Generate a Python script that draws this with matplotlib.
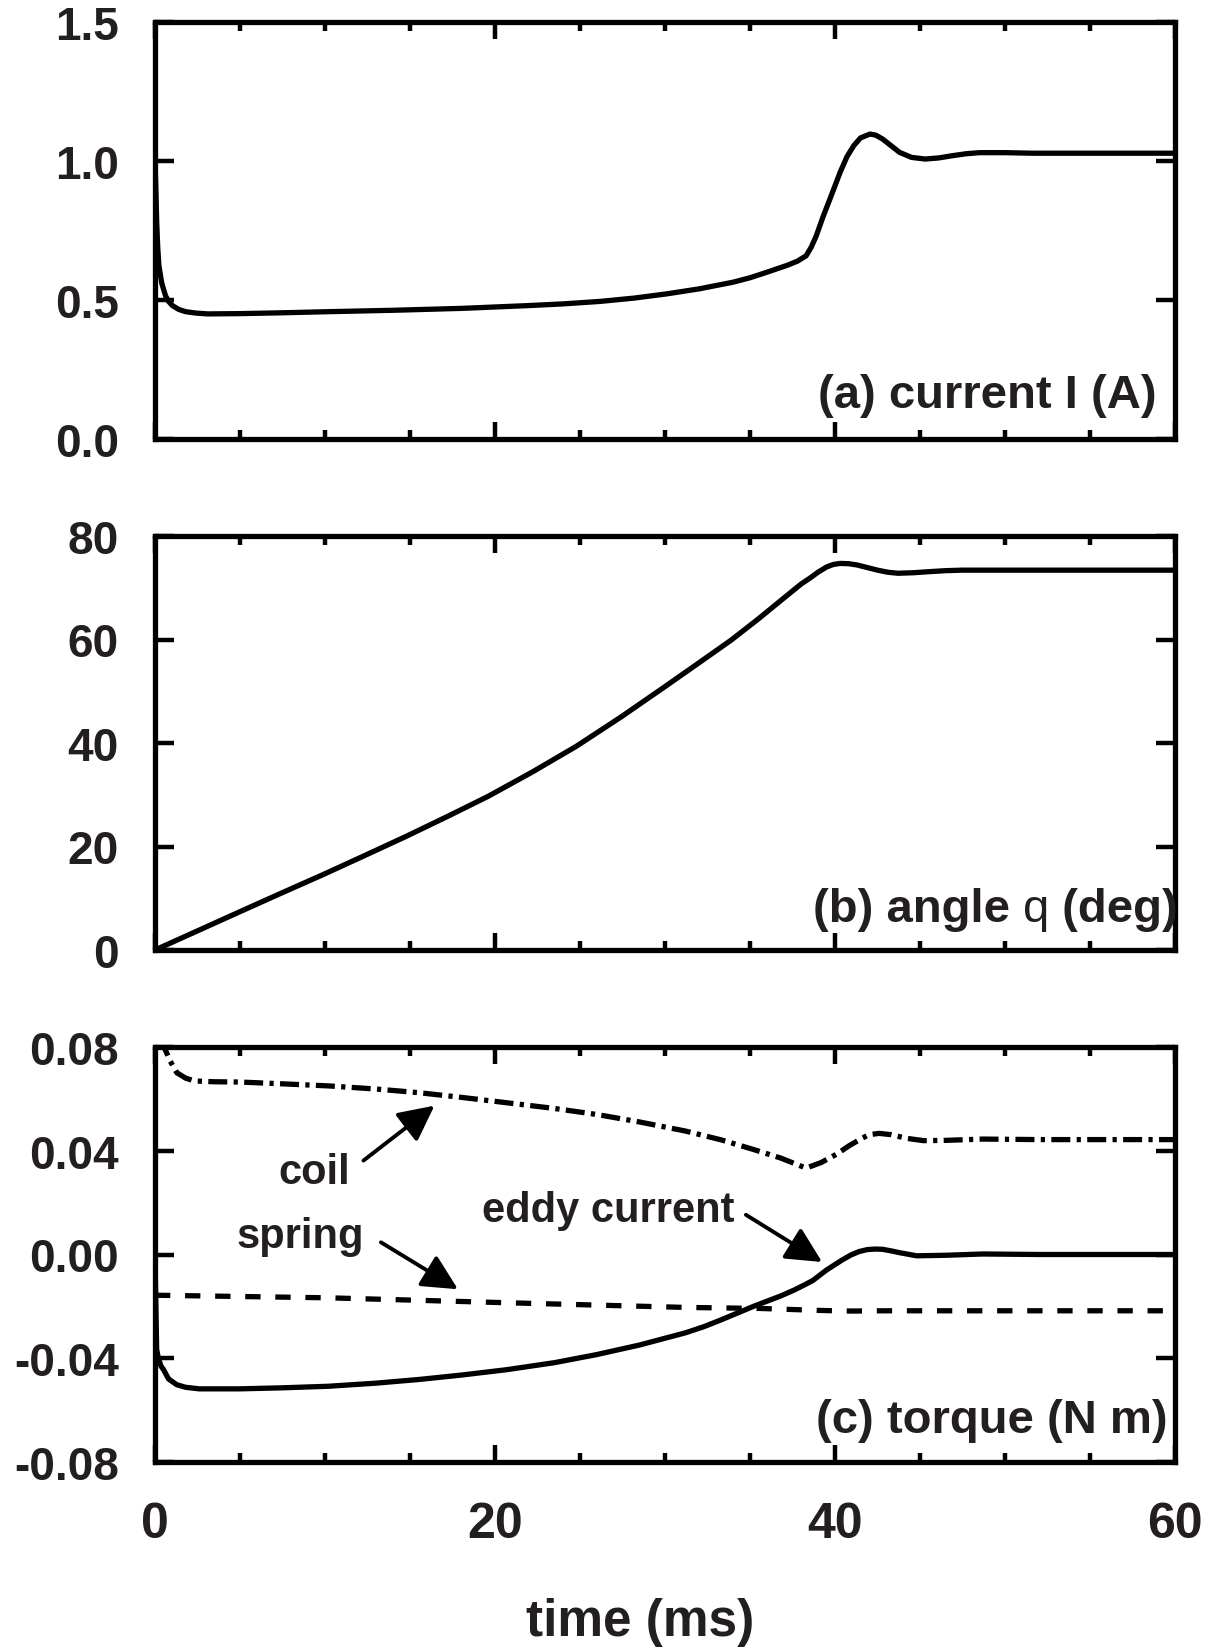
import matplotlib
matplotlib.use("Agg")
import matplotlib.pyplot as plt
from matplotlib.ticker import MultipleLocator, FormatStrFormatter
from matplotlib.patches import ArrowStyle

# --- datos ---
# (a) corriente de la bobina
t_corriente = [0, 0.05, 0.1, 0.16, 0.23, 0.4, 0.62, 0.8, 1.02, 1.4, 1.8, 2.4, 3.1, 5,
               7.5, 10.2, 14, 18.1, 22, 24, 26.2, 28.2, 30.1, 32, 34.0, 35, 36, 37.2,
               37.8, 38.3, 38.6, 38.9, 39.3, 39.7, 40.3, 40.7, 41.1, 41.5, 42.06,
               42.4, 42.8, 43.3, 43.8, 44.5, 45.3, 46.1, 46.9, 47.7, 48.5, 50, 51.6,
               60]
corriente = [1.0, 0.9, 0.78, 0.69, 0.623, 0.56, 0.515, 0.495, 0.48, 0.466, 0.458,
             0.453, 0.450, 0.451, 0.454, 0.458, 0.463, 0.470, 0.480, 0.486, 0.495,
             0.507, 0.522, 0.540, 0.564, 0.580, 0.600, 0.625, 0.640, 0.659, 0.690,
             0.731, 0.800, 0.863, 0.959, 1.015, 1.055, 1.083, 1.097, 1.093, 1.079,
             1.055, 1.031, 1.013, 1.007, 1.011, 1.019, 1.026, 1.030, 1.030, 1.028,
             1.028]

# (b) angulo
t_angulo = [0, 2.5, 4.86, 7.3, 9.84, 12.3, 14.8, 17.2, 19.6, 22.2, 24.8, 27.4, 30.0,
            32.0, 33.9, 35.5, 37.1, 38.0, 38.5, 39.0, 39.5, 39.9, 40.3, 40.8, 41.3,
            41.9, 42.5, 43.1, 43.7, 44.6, 45.5, 46.5, 47.5, 60]
angulo = [0, 3.7, 7.2, 10.8, 14.5, 18.2, 22.0, 25.8, 29.7, 34.4, 39.4, 45.0, 50.9,
          55.5, 59.9, 64.0, 68.3, 70.7, 71.8, 73.0, 74.0, 74.5, 74.7, 74.65, 74.4,
          73.9, 73.4, 73.0, 72.8, 72.9, 73.1, 73.3, 73.4, 73.4]

# (c) pares
t_bobina = [0.2, 0.6, 0.9, 1.28, 1.8, 2.33, 3.5, 4.96, 7.5, 10.2, 13, 15.5, 18, 20.7,
            23.5, 25.97, 28.5, 31.2, 33.3, 35.2, 36.8, 38.3, 39.2, 40.1, 40.8, 41.5,
            42.0, 42.6, 43.3, 44.2, 45.2, 46.5, 48.7, 52, 60]
par_bobina = [0.083, 0.079, 0.0745, 0.0701, 0.068, 0.0669, 0.0666, 0.0665, 0.0658,
              0.065, 0.0638, 0.0624, 0.0606, 0.0585, 0.0563, 0.054, 0.0511, 0.0476,
              0.0442, 0.0405, 0.0372, 0.0333, 0.0355, 0.0387, 0.0418, 0.0445, 0.0462,
              0.0467, 0.0462, 0.0448, 0.0439, 0.0440, 0.0445, 0.0443, 0.0443]

t_foucault = [0, 0.05, 0.1, 0.2, 0.35, 0.5, 0.8, 1.28, 1.8, 2.6, 4.96, 7.5, 10.2, 13,
              15.5, 18, 20.7, 23.5, 25.97, 28.5, 31.2, 32.3, 33.3, 34.4, 35.2, 36.0,
              36.8, 37.6, 38.3, 38.7, 39.1, 39.5, 39.9, 40.4, 40.9, 41.4, 41.9, 42.4,
              42.8, 43.3, 43.8, 44.8, 46.5, 48.7, 52, 60]
par_foucault = [0.0, -0.02, -0.0367, -0.040, -0.043, -0.0444, -0.048, -0.0502,
                -0.0512, -0.0518, -0.0518, -0.0514, -0.0508, -0.0496, -0.0482,
                -0.0465, -0.0444, -0.0417, -0.0386, -0.0349, -0.0302, -0.0278,
                -0.0252, -0.0222, -0.0200, -0.0180, -0.0160, -0.0137, -0.0114,
                -0.0100, -0.0080, -0.0060, -0.0043, -0.0022, -0.0003, 0.0011, 0.0019,
                0.0021, 0.0020, 0.0014, 0.0007, -0.0005, -0.0003, 0.0002, 0.0, 0.0]

t_resorte = [0, 10.2, 20.7, 31.2, 35.6, 39.3, 41, 43, 60]
par_resorte = [-0.0157, -0.0167, -0.0186, -0.0204, -0.0208, -0.0216, -0.0218,
               -0.0217, -0.0217]

ticks_a = [0.0, 0.5, 1.0, 1.5]
ticks_b = [0, 20, 40, 60, 80]
ticks_c = [-0.08, -0.04, 0.00, 0.04, 0.08]
ticks_t = [0, 20, 40, 60]

gris = '#231f20'
plt.rcParams['font.family'] = ['Liberation Sans', 'DejaVu Sans']
plt.rcParams['font.weight'] = 'bold'

W, H = 1214, 1649
fig = plt.figure(figsize=(W / 100, H / 100), dpi=100)


def crear_ejes(top_px, bottom_px):
    left, right = 155, 1175
    ax = fig.add_axes([left / W, 1 - bottom_px / H, (right - left) / W,
                       (bottom_px - top_px) / H])
    for sp in ax.spines.values():
        sp.set_linewidth(3.8)
    ax.set_xlim(0, 60)
    ax.xaxis.set_major_locator(MultipleLocator(20))
    ax.xaxis.set_minor_locator(MultipleLocator(5))
    ax.tick_params(which='both', direction='in', top=True, right=True,
                   width=3.2, labelcolor=gris)
    ax.tick_params(axis='x', which='major', length=12, labelsize=36, pad=28)
    ax.tick_params(axis='x', which='minor', length=6.5)
    ax.tick_params(axis='y', which='major', length=14, labelsize=33, pad=26)
    return ax


lw = 3.8
estilo = dict(color='black', lw=lw, solid_joinstyle='round', dash_joinstyle='round')

ax_a = crear_ejes(23, 440)
ax_a.plot(t_corriente, corriente, **estilo)
ax_a.set_ylim(0, 1.5)
ax_a.set_yticks(ticks_a)
ax_a.yaxis.set_major_formatter(FormatStrFormatter('%.1f'))
ax_a.tick_params(axis='x', labelbottom=False)
ax_a.text(0.982, 0.077, '(a) current I (A)', transform=ax_a.transAxes,
          ha='right', va='baseline', fontsize=34, color=gris)

ax_b = crear_ejes(537, 951)
ax_b.plot(t_angulo, angulo, **estilo)
ax_b.set_ylim(0, 80)
ax_b.set_yticks(ticks_b)
ax_b.tick_params(axis='x', labelbottom=False)
t3 = ax_b.text(1.003, 0.071, ' (deg)', transform=ax_b.transAxes, ha='right',
               va='baseline', fontsize=34, color=gris)
t2 = ax_b.annotate('q', xy=(0, 0), xycoords=t3, ha='right', va='bottom',
                   fontsize=34, fontweight='normal', color=gris)
ax_b.annotate('(b) angle ', xy=(0, 0), xycoords=t2, ha='right', va='bottom',
              fontsize=34, color=gris)

ax_c = crear_ejes(1048, 1463)
ax_c.plot(t_bobina, par_bobina, linestyle=(0, (3.6, 1.2, 0.8, 1.2)), **estilo)
ax_c.plot(t_resorte, par_resorte, linestyle=(0, (2.9, 2.8)), **estilo)
ax_c.plot(t_foucault, par_foucault, **estilo)
ax_c.set_ylim(-0.08, 0.08)
ax_c.set_yticks(ticks_c)
ax_c.set_xticks(ticks_t)
ax_c.yaxis.set_major_formatter(FormatStrFormatter('%.2f'))
ax_c.text(0.993, 0.072, '(c) torque (N m)', transform=ax_c.transAxes,
          ha='right', va='baseline', fontsize=34, color=gris)

flecha = dict(arrowstyle=ArrowStyle('-|>', head_length=0.68, head_width=0.34),
              color='black', lw=2.8, mutation_scale=32, shrinkA=0, shrinkB=0)
ax_c.annotate('', xy=(16.44, 0.0574), xytext=(12.26, 0.0362), arrowprops=flecha)
ax_c.annotate('', xy=(17.82, -0.0134), xytext=(13.29, 0.0047), arrowprops=flecha)
ax_c.annotate('', xy=(39.24, -0.0029), xytext=(34.76, 0.0153), arrowprops=flecha)
ax_c.text(9.35, 0.0276, 'coil', ha='center', va='baseline', fontsize=30, color=gris)
ax_c.text(8.53, 0.0029, 'spring', ha='center', va='baseline', fontsize=30, color=gris)
ax_c.text(26.68, 0.0130, 'eddy current', ha='center', va='baseline', fontsize=30,
          color=gris)

fig.text(640 / W, 1 - 1636 / H, 'time (ms)', ha='center', va='baseline',
         fontsize=37, color=gris)

fig.savefig('out.png', dpi=100)
